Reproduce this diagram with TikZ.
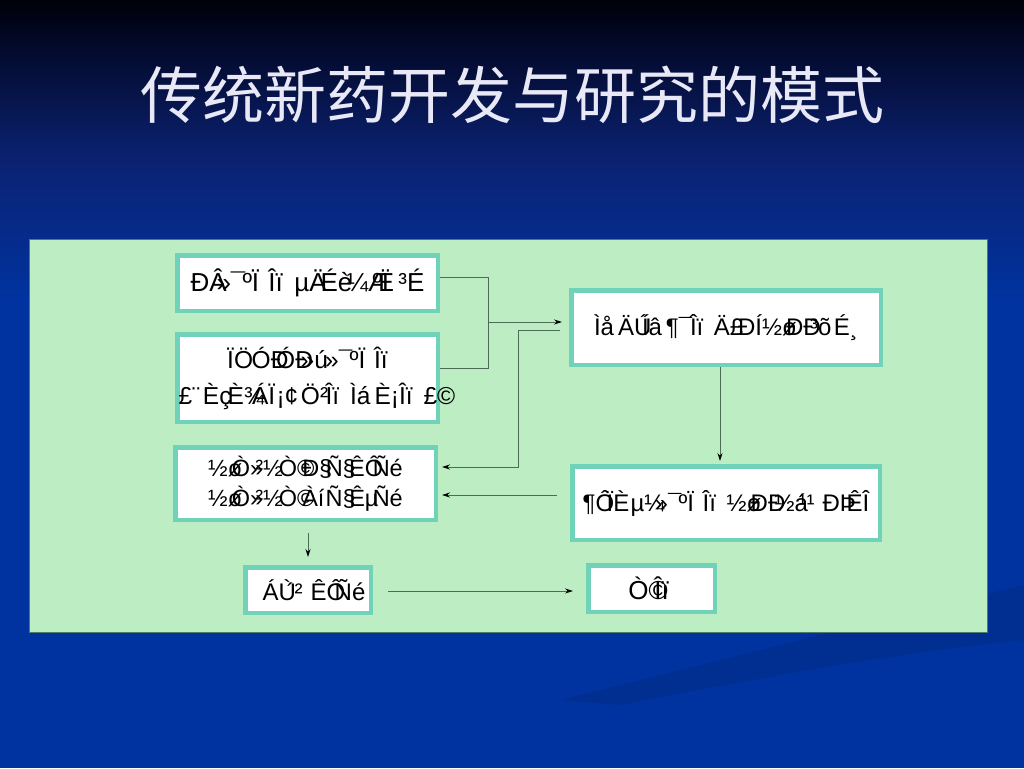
\documentclass[tikz,border=0pt]{standalone}
\usepackage{fontspec}
\setmainfont{Liberation Sans}
\newfontfamily\cjk{Noto Sans CJK SC}
\usetikzlibrary{arrows.meta}
\definecolor{bgA}{HTML}{000008}
\definecolor{bgB}{HTML}{03092A}
\definecolor{bgC}{HTML}{0B2272}
\definecolor{bgD}{HTML}{0033A0}
\definecolor{swoosh}{HTML}{002A84}
\definecolor{panelgreen}{HTML}{BDEDC3}
\definecolor{panelborder}{HTML}{4F7C68}
\definecolor{boxborder}{HTML}{70D2B8}
\definecolor{linkcol}{HTML}{4E6B58}
\definecolor{titlecol}{HTML}{E8E8F6}
\newcommand\g[1]{\makebox[1em][l]{#1}}
\begin{document}
\begin{tikzpicture}[x=1pt,y=-1pt,
  boxst/.style={draw=boxborder, fill=white, line width=4.5pt, inner sep=0pt, align=center},
  link/.style={draw=linkcol, line width=0.9pt},
  arr/.style={link, -{Stealth[length=8pt,width=5pt,black]}}]
\useasboundingbox (0,0) rectangle (1024,768);
% background
\shade[top color=bgA, bottom color=bgB] (0,0) rectangle (1024,45);
\shade[top color=bgB, bottom color=bgC] (0,45) rectangle (1024,160);
\shade[top color=bgC, bottom color=bgD] (0,160) rectangle (1024,300);
\fill[bgD] (0,300) rectangle (1024,768);
\fill[swoosh, opacity=0.5] (1024,585) .. controls (900,615) and (760,650) .. (560,700) -- (620,705) .. controls (800,670) and (920,650) .. (1024,640) -- cycle;
% title
\node[text=titlecol, font=\cjk\fontsize{62}{70}\selectfont] (title) at (512,95) {传统新药开发与研究的模式};
% panel
\draw[fill=panelgreen, draw=panelborder, line width=1pt] (29,239) rectangle (987,632);
% boxes
\node[boxst, minimum width=260.5pt, minimum height=55.5pt, font=\fontsize{26}{30}\selectfont] (A) at (307.5,283)
  {\g{ÐÂ}\g{»¯}\g{ºÏ}\g{Îï}\g{µÄ}\g{Éè}\g{¼Æ}\g{ºÏ}³É};
\node[boxst, minimum width=260.5pt, minimum height=87.5pt, text width=258pt, font=\fontsize{24.5}{36}\selectfont] (B) at (307.5,378)
  {\g{ÏÖ}\g{ÓÐ}\g{ÓÐ}\g{»ú}\g{»¯}\g{ºÏ}Îï\\ \g{£¨}\g{Èç}\g{È¾}\g{ÁÏ}\g{¡¢}\g{Ö²}\g{Îï}\g{Ìá}\g{È¡}\g{Îï}£©};
\node[boxst, minimum width=260.5pt, minimum height=72.5pt, font=\fontsize{23.5}{30}\selectfont] (C) at (305.5,483.5)
  {\g{½ø}\g{Ò»}\g{²½}\g{Ò©}\g{Ð§}\g{Ñ§}\g{ÊÔ}Ñé\\ \g{½ø}\g{Ò»}\g{²½}\g{Ò©}\g{Àí}\g{Ñ§}\g{Êµ}Ñé};
\node[boxst, minimum width=125.5pt, minimum height=45.5pt, font=\fontsize{24}{28}\selectfont] (D) at (308,590)
  {\hspace*{12pt}\g{ÁÙ}\g{´²}\g{ÊÔ}Ñé};
\node[boxst, minimum width=309.5pt, minimum height=74.5pt, font=\fontsize{24}{28}\selectfont] (E) at (726,327.5)
  {\g{Ìå}\g{ÄÚ}\g{Íâ}\g{¶¯}\g{Îï}\g{Ä£}\g{ÐÍ}\g{½ø}\g{ÐÐ}\g{³õ}É¸};
\node[boxst, minimum width=307.5pt, minimum height=73.5pt, font=\fontsize{24}{28}\selectfont] (F) at (726,503)
  {\g{¶Ô}\g{ÏÈ}\g{µ¼}\g{»¯}\g{ºÏ}\g{Îï}\g{½ø}\g{ÐÐ}\g{½á}\g{¹¹}\g{ÐÞ}ÊÎ};
\node[boxst, minimum width=126.5pt, minimum height=46.5pt, font=\fontsize{26}{30}\selectfont] (G) at (651.5,588.5)
  {\g{Ò©}Îï\hspace*{6pt}};
% connector points
\coordinate (jA) at (488,277);
\coordinate (jB) at (488,368);
\coordinate (jM) at (488,322);
\coordinate (eIn) at (562,322);
\coordinate (fbS) at (560,330);
\coordinate (fbK) at (518,330);
\coordinate (fbL) at (518,467);
\coordinate (cIn1) at (442,467);
\coordinate (fOut) at (557,495);
\coordinate (cIn2) at (442,495);
\coordinate (cOut) at (308,533);
\coordinate (dIn) at (308,557);
\coordinate (dOut) at (388,591);
\coordinate (gIn) at (573,591);
\coordinate (fIn) at (720,461);
% connectors
\draw[link] ([yshift=6pt]A.east) -- (jA) -- (jB) -- ([yshift=10pt]B.east);
\draw[arr] (jM) -- (eIn);
\draw[arr] (fbS) -- (fbK) -- (fbL) -- (cIn1);
\draw[arr] (fOut) -- (cIn2);
\draw[arr] (E.south -| fIn) -- (fIn);
\draw[arr] (cOut) -- (dIn);
\draw[arr] (dOut) -- (gIn);
\end{tikzpicture}
\end{document}
